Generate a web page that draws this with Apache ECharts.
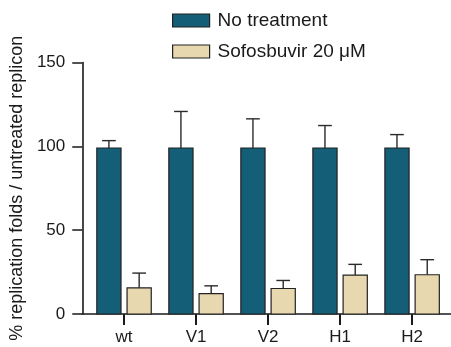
<!DOCTYPE html>
<html>
<head>
<meta charset="utf-8">
<script src="https://cdn.jsdelivr.net/npm/echarts@6/dist/echarts.min.js"></script>
<style>
html,body{margin:0;padding:0;background:#fff;}
#chart{width:451px;height:347px;}
</style>
</head>
<body>
<div id="chart"></div>
<script>
// ---- data ----
var categories = ['wt', 'V1', 'V2', 'H1', 'H2'];
var noTreatment = [99, 99, 99, 99, 99];
var noTreatmentErr = [4.4, 21.8, 17.4, 13.4, 8];
var sofosbuvir = [15.6, 12.2, 15.2, 23.2, 23.4];
var sofosbuvirErr = [8.8, 4.6, 4.8, 6.4, 9];
var yTicks = [0, 50, 100, 150];

var FONT = 'Liberation Sans, Arial, Helvetica, sans-serif';
var INK = '#1a1a1a';
var BLUE = '#145E78';
var TAN = '#E8D8AF';

// layout constants (in category units)
var OFFSET = 0.21, HALF = 0.168, CAP = 0.095;

function makeRender(offset) {
  return function (params, api) {
    var i = api.value(0), v = api.value(1), e = api.value(2);
    var p0 = api.coord([i + offset - HALF, v]);
    var p1 = api.coord([i + offset + HALF, 0]);
    var top = api.coord([i + offset, v + e]);
    var base = api.coord([i + offset, v]);
    var cl = api.coord([i + offset - CAP, v + e]);
    var cr = api.coord([i + offset + CAP, v + e]);
    return {
      type: 'group',
      children: [
        { type: 'line', shape: { x1: base[0], y1: base[1], x2: top[0], y2: top[1] },
          style: { stroke: '#2a2a2a', lineWidth: 1.4 } },
        { type: 'line', shape: { x1: cl[0], y1: cl[1], x2: cr[0], y2: cr[1] },
          style: { stroke: '#2a2a2a', lineWidth: 1.4 } },
        { type: 'rect', shape: { x: p0[0], y: p0[1], width: p1[0] - p0[0], height: p1[1] - p0[1] },
          style: { fill: api.visual('color'), stroke: '#222', lineWidth: 1.2 } }
      ]
    };
  };
}

function toData(vals, errs) {
  return vals.map(function (v, i) { return [i, v, errs[i]]; });
}

var chart = echarts.init(document.getElementById('chart'), null, { renderer: 'canvas' });
chart.setOption({
  animation: false,
  backgroundColor: '#fff',
  textStyle: { fontFamily: FONT, color: INK },
  legend: {
    orient: 'vertical',
    left: 172,
    top: 11,
    padding: 0,
    itemWidth: 37,
    itemHeight: 13,
    itemGap: 12,
    textStyle: { fontFamily: FONT, fontSize: 19, color: INK, padding: [0, 0, 0, 3] },
    data: [
      { name: 'No treatment', icon: 'rect', itemStyle: { color: BLUE, borderColor: '#222', borderWidth: 1.2 } },
      { name: 'Sofosbuvir 20 μM', icon: 'rect', itemStyle: { color: TAN, borderColor: '#222', borderWidth: 1.2 } }
    ]
  },
  grid: { left: 80, right: 0, top: 62.5, bottom: 33, containLabel: false },
  xAxis: {
    type: 'value',
    min: -0.58,
    max: 4.54,
    splitLine: { show: false },
    axisLine: { show: true, onZero: false, lineStyle: { color: INK, width: 1.6 } },
    axisTick: { show: true, customValues: [0, 1, 2, 3, 4], length: 11, inside: false, lineStyle: { color: INK, width: 2 } },
    axisLabel: {
      customValues: [0, 1, 2, 3, 4],
      margin: 15,
      fontSize: 17,
      fontFamily: FONT,
      color: INK,
      formatter: function (v) { return categories[Math.round(v)]; }
    }
  },
  yAxis: {
    type: 'value',
    min: 0,
    max: 150,
    interval: 50,
    name: '% replication folds / untreated replicon',
    nameLocation: 'middle',
    nameRotate: 90,
    nameGap: 50,
    nameTextStyle: { fontSize: 18, fontFamily: FONT, color: INK },
    splitLine: { show: false },
    axisLine: { show: true, onZero: false, lineStyle: { color: INK, width: 1.6 } },
    axisTick: { show: true, length: 10, lineStyle: { color: INK, width: 1.5 } },
    axisLabel: {
      margin: 17,
      fontSize: 17,
      fontFamily: FONT,
      color: INK,
      formatter: function (v) { return yTicks.indexOf(v) >= 0 ? String(v) : ''; }
    }
  },
  series: [
    {
      name: 'No treatment',
      type: 'custom',
      itemStyle: { color: BLUE },
      renderItem: makeRender(-OFFSET),
      encode: { x: 0, y: [1, 2] },
      data: toData(noTreatment, noTreatmentErr)
    },
    {
      name: 'Sofosbuvir 20 μM',
      type: 'custom',
      itemStyle: { color: TAN },
      renderItem: makeRender(OFFSET),
      encode: { x: 0, y: [1, 2] },
      data: toData(sofosbuvir, sofosbuvirErr)
    }
  ]
});
</script>
</body>
</html>
